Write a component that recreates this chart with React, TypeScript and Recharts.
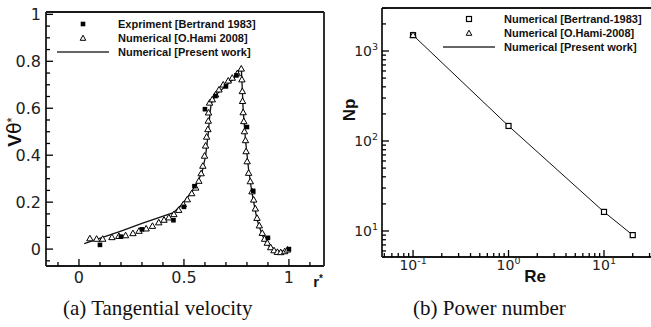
import React from "react";
import { ComposedChart, Scatter, Line, XAxis, YAxis, ReferenceLine } from "recharts";

// ---- (a) tangential velocity ----
const expX = [0.1, 0.2, 0.3, 0.45, 0.5, 0.55, 0.6, 0.65, 0.7, 0.75, 0.8, 0.83, 0.9, 1.0];
const expY = [0.018, 0.053, 0.084, 0.123, 0.18, 0.268, 0.596, 0.652, 0.693, 0.74, 0.52, 0.248, 0.048, 0.0];

const hamiX = [
  0.052, 0.084, 0.113, 0.157, 0.19, 0.222, 0.257, 0.286, 0.32, 0.35, 0.38, 0.405, 0.428, 0.452,
  0.475, 0.497, 0.516, 0.537, 0.556, 0.571, 0.582, 0.59, 0.598, 0.603, 0.608, 0.614, 0.616,
  0.617, 0.622, 0.635, 0.651, 0.667, 0.687, 0.711, 0.73, 0.754, 0.773, 0.776, 0.778, 0.779,
  0.782, 0.785, 0.788, 0.793, 0.796, 0.801, 0.808, 0.816, 0.824, 0.832, 0.84, 0.848, 0.859,
  0.873, 0.884, 0.897, 0.913, 0.929, 0.945, 0.961, 0.98, 0.993,
];
const hamiY = [
  0.045, 0.043, 0.043, 0.05, 0.055, 0.058, 0.067, 0.077, 0.087, 0.098, 0.113, 0.124, 0.134, 0.148,
  0.166, 0.19, 0.211, 0.237, 0.261, 0.29, 0.322, 0.354, 0.397, 0.44, 0.478, 0.51, 0.546,
  0.581, 0.623, 0.637, 0.658, 0.679, 0.7, 0.717, 0.729, 0.748, 0.768, 0.722, 0.672, 0.63,
  0.582, 0.544, 0.501, 0.463, 0.416, 0.373, 0.324, 0.288, 0.245, 0.21, 0.172, 0.132, 0.1,
  0.068, 0.043, 0.026, 0.007, -0.006, -0.013, -0.014, -0.01, -0.003,
];

const presentX = [0.025, 0.2, 0.3, 0.45, 0.49, 0.555, 0.587, 0.603, 0.616, 0.624, 0.63, 0.65, 0.73, 0.773, 0.776, 0.782, 0.793, 0.808, 0.824, 0.848, 0.873, 0.905, 0.937, 0.965, 0.997];
const presentY = [0.023, 0.077, 0.11, 0.155, 0.19, 0.265, 0.33, 0.397, 0.495, 0.58, 0.62, 0.655, 0.72, 0.775, 0.72, 0.593, 0.466, 0.338, 0.239, 0.126, 0.058, 0.013, -0.008, -0.01, 0.0];

const velXMajor = [0, 0.5, 1];
const velXMinor = [-0.1, 0.1, 0.2, 0.3, 0.4, 0.6, 0.7, 0.8, 0.9, 1.1];
const velYMajor = [0, 0.2, 0.4, 0.6, 0.8, 1];
const velYMinor = [-0.05, 0.05, 0.1, 0.15, 0.25, 0.3, 0.35, 0.45, 0.5, 0.55, 0.65, 0.7, 0.75, 0.85, 0.9, 0.95];

// ---- (b) power number ----
const reValues = [0.1, 1, 10, 20];
const npBertrand = [1500, 147, 16.3, 9.0];
const hamiRe = [0.1];
const hamiNp = [1500];
const npPresent = [1500, 147, 16.3, 9.0];

const reMajor = [0.1, 1, 10];
const reMinor = [0.05, 0.06, 0.07, 0.08, 0.09, 0.2, 0.3, 0.4, 0.5, 0.6, 0.7, 0.8, 0.9, 2, 3, 4, 5, 6, 7, 8, 9, 20, 30];
const npMajor = [10, 100, 1000];
const npMinor = [6, 7, 8, 9, 20, 30, 40, 50, 60, 70, 80, 90, 200, 300, 400, 500, 600, 700, 800, 900, 2000, 3000];

const zip = (xs: number[], ys: number[]) => xs.map((x, i) => ({ x, y: ys[i] }));

const expData = zip(expX, expY);
const hamiData = zip(hamiX, hamiY);
const presentData = zip(presentX, presentY);
const bertData = zip(reValues, npBertrand);
const hamiNpData = zip(hamiRe, hamiNp);
const presentNpData = zip(reValues, npPresent);

const AX = "#1a1a1a";
const tickFont = "'DejaVu Sans', Verdana, sans-serif";
const boldFont = "'Liberation Sans', Arial, Helvetica, sans-serif";

const VEL_X: [number, number] = [-0.157, 1.167];
const VEL_Y: [number, number] = [-0.072, 1.01];
const RE_X: [number, number] = [0.0473, 32.6];
const NP_Y: [number, number] = [5.14, 3006];

// tick marks sit on the axis edges; length depends on major/minor
const xTickData = (major: number[], minor: number[], y: number) => [
  ...major.map((x) => ({ x, y, len: 7 })),
  ...minor.map((x) => ({ x, y, len: 4 })),
];
const yTickData = (major: number[], minor: number[], x: number) => [
  ...major.map((y) => ({ x, y, len: 7 })),
  ...minor.map((y) => ({ x, y, len: 4 })),
];

function XTickMark({ cx, cy, payload }: any) {
  if (cx == null || cy == null) return null;
  const len = payload?.len ?? 4;
  return <path d={`M${cx},${cy} L${cx},${cy - len}`} stroke="#000" strokeWidth={1.3} fill="none" />;
}
function YTickMark({ cx, cy, payload }: any) {
  if (cx == null || cy == null) return null;
  const len = payload?.len ?? 4;
  return <path d={`M${cx},${cy} L${cx + len},${cy}`} stroke="#000" strokeWidth={1.3} fill="none" />;
}

function Triangle({ cx, cy }: any) {
  if (cx == null || cy == null) return null;
  return <path d={`M${cx},${cy - 3.3} L${cx + 3.2},${cy + 2.3} L${cx - 3.2},${cy + 2.3} Z`} fill="#fff" stroke="#000" strokeWidth={1} />;
}
function FilledSquare({ cx, cy }: any) {
  if (cx == null || cy == null) return null;
  return <rect x={cx - 2.3} y={cy - 2.3} width={4.6} height={4.6} fill="#000" />;
}
function OpenSquare({ cx, cy }: any) {
  if (cx == null || cy == null) return null;
  return <rect x={cx - 2.5} y={cy - 2.5} width={5} height={5} fill="#fff" stroke="#000" strokeWidth={1.2} />;
}

function LegendBox({ rows, left, top }: { rows: { marker: string; text: string }[]; left: number; top: number }) {
  return (
    <div style={{ position: "absolute", left, top, fontFamily: boldFont, fontWeight: "bold", fontSize: 11, color: "#111" }}>
      {rows.map((r, i) => (
        <div key={i} style={{ display: "flex", alignItems: "center", height: 14 }}>
          <svg width={60} height={14} style={{ marginRight: 1 }}>
            {r.marker === "fsq" && <rect x={23.7} y={4.7} width={4.6} height={4.6} fill="#000" />}
            {r.marker === "osq" && <rect x={23.5} y={4.5} width={5} height={5} fill="#fff" stroke="#000" strokeWidth={1.2} />}
            {r.marker === "tri" && <path d="M26,4.2 L28.8,9.3 L23.2,9.3 Z" fill="#fff" stroke="#000" strokeWidth={1} />}
            {r.marker === "line" && <line x1={0} x2={52} y1={7} y2={7} stroke="#333" strokeWidth={1.4} />}
          </svg>
          <span style={{ whiteSpace: "nowrap" }}>{r.text}</span>
        </div>
      ))}
    </div>
  );
}

function VelXLabel({ x, y, payload }: any) {
  return (
    <text x={x} y={y + 17} textAnchor="middle" fontFamily={tickFont} fontSize={16} fill="#222">
      {payload.value}
    </text>
  );
}
function VelYLabel({ x, y, payload }: any) {
  return (
    <text x={x - 5} y={y + 6} textAnchor="end" fontFamily={tickFont} fontSize={16} fill="#222">
      {payload.value}
    </text>
  );
}
function ReLabel({ x, y, payload }: any) {
  const e = Math.round(Math.log10(payload.value));
  return (
    <text x={x} y={y + 13} textAnchor="middle" fontFamily={tickFont} fontSize={14} fill="#222">
      <tspan>10</tspan>
      <tspan dy={-6} fontSize={9.5}>{e}</tspan>
    </text>
  );
}
function NpLabel({ x, y, payload }: any) {
  const e = Math.round(Math.log10(payload.value));
  return (
    <text x={x - 4} y={y + 5} textAnchor="end" fontFamily={tickFont} fontSize={14} fill="#222">
      <tspan>10</tspan>
      <tspan dy={-6} fontSize={9.5}>{e}</tspan>
    </text>
  );
}

const frameProps = { stroke: AX, strokeWidth: 1.8, ifOverflow: "visible" as const };

const captionStyle: React.CSSProperties = {
  position: "absolute",
  top: 296,
  fontFamily: "'Liberation Serif', 'Times New Roman', serif",
  fontSize: 21,
  whiteSpace: "nowrap",
  color: "#111",
};

export default function App() {
  return (
    <div style={{ position: "absolute", left: 0, top: 0, width: 651, height: 327, background: "#fff", overflow: "hidden" }}>
      <div style={{ position: "absolute", left: 0, top: 0 }}>
        <ComposedChart width={335} height={290} margin={{ top: 12, right: 11, bottom: 0, left: 0 }}>
          <XAxis
            dataKey="x"
            type="number"
            domain={VEL_X}
            allowDataOverflow
            ticks={velXMajor}
            interval={0}
            tickSize={0}
            tickMargin={0}
            tickLine={false}
            axisLine={false}
            height={24}
            tick={VelXLabel}
            label={() => (
              <text x={318} y={287} textAnchor="middle" fontFamily={boldFont} fontWeight="bold" fontSize={15} fill="#111">
                r<tspan dy={-5} fontSize={10}>*</tspan>
              </text>
            )}
          />
          <YAxis
            dataKey="y"
            type="number"
            domain={VEL_Y}
            allowDataOverflow
            ticks={velYMajor}
            interval={0}
            tickSize={0}
            tickMargin={0}
            tickLine={false}
            axisLine={false}
            width={46}
            tick={VelYLabel}
            label={() => (
              <text x={21} y={132} transform="rotate(-90 21 132)" textAnchor="middle" fontFamily={boldFont} fontSize={19} fill="#111">
                <tspan fontWeight="bold">V</tspan>
                <tspan fontFamily="'DejaVu Sans', sans-serif">θ</tspan>
                <tspan dy={-5} fontSize={13}>*</tspan>
              </text>
            )}
          />
          <ReferenceLine x={VEL_X[0]} {...frameProps} />
          <ReferenceLine x={VEL_X[1]} {...frameProps} />
          <ReferenceLine y={VEL_Y[0]} {...frameProps} />
          <ReferenceLine y={VEL_Y[1]} {...frameProps} />
          <Scatter data={xTickData(velXMajor, velXMinor, VEL_Y[0])} dataKey="y" shape={XTickMark} isAnimationActive={false} legendType="none" />
          <Scatter data={yTickData(velYMajor, velYMinor, VEL_X[0])} dataKey="y" shape={YTickMark} isAnimationActive={false} legendType="none" />
          <Line data={presentData} dataKey="y" type="linear" stroke="#111" strokeWidth={1.3} dot={false} isAnimationActive={false} />
          <Scatter data={hamiData} dataKey="y" shape={Triangle} isAnimationActive={false} />
          <Scatter data={expData} dataKey="y" shape={FilledSquare} isAnimationActive={false} />
        </ComposedChart>
      </div>
      <LegendBox
        left={57}
        top={17}
        rows={[
          { marker: "fsq", text: "Expriment [Bertrand 1983]" },
          { marker: "tri", text: "Numerical [O.Hami 2008]" },
          { marker: "line", text: "Numerical [Present work]" },
        ]}
      />

      <div style={{ position: "absolute", left: 330, top: 0 }}>
        <ComposedChart width={325} height={290} margin={{ top: 8, right: 2, bottom: 0, left: 0 }}>
          <XAxis
            dataKey="x"
            type="number"
            scale="log"
            domain={RE_X}
            allowDataOverflow
            ticks={reMajor}
            interval={0}
            tickSize={0}
            tickMargin={0}
            tickLine={false}
            axisLine={false}
            height={33}
            tick={ReLabel}
            label={() => (
              <text x={205} y={282} textAnchor="middle" fontFamily={boldFont} fontWeight="bold" fontSize={17} fill="#111">
                Re
              </text>
            )}
          />
          <YAxis
            dataKey="y"
            type="number"
            scale="log"
            domain={NP_Y}
            allowDataOverflow
            ticks={npMajor}
            interval={0}
            tickSize={0}
            tickMargin={0}
            tickLine={false}
            axisLine={false}
            width={52}
            tick={NpLabel}
            label={() => (
              <text x={25} y={110} transform="rotate(-90 25 110)" textAnchor="middle" fontFamily={boldFont} fontWeight="bold" fontSize={17} fill="#111">
                Np
              </text>
            )}
          />
          <ReferenceLine x={RE_X[0]} {...frameProps} />
          <ReferenceLine x={RE_X[1]} {...frameProps} />
          <ReferenceLine y={NP_Y[0]} {...frameProps} />
          <ReferenceLine y={NP_Y[1]} {...frameProps} />
          <Scatter data={xTickData(reMajor, reMinor, NP_Y[0])} dataKey="y" shape={XTickMark} isAnimationActive={false} legendType="none" />
          <Scatter data={yTickData(npMajor, npMinor, RE_X[0])} dataKey="y" shape={YTickMark} isAnimationActive={false} legendType="none" />
          <Line data={presentNpData} dataKey="y" type="linear" stroke="#111" strokeWidth={1} dot={false} isAnimationActive={false} />
          <Scatter data={bertData} dataKey="y" shape={OpenSquare} isAnimationActive={false} />
          <Scatter data={hamiNpData} dataKey="y" shape={Triangle} isAnimationActive={false} />
        </ComposedChart>
      </div>
      <LegendBox
        left={443}
        top={12}
        rows={[
          { marker: "osq", text: "Numerical [Bertrand-1983]" },
          { marker: "tri", text: "Numerical [O.Hami-2008]" },
          { marker: "line", text: "Numerical [Present work]" },
        ]}
      />

      <div style={{ ...captionStyle, left: 63 }}>(a) Tangential velocity</div>
      <div style={{ ...captionStyle, left: 413 }}>(b) Power number</div>
    </div>
  );
}
